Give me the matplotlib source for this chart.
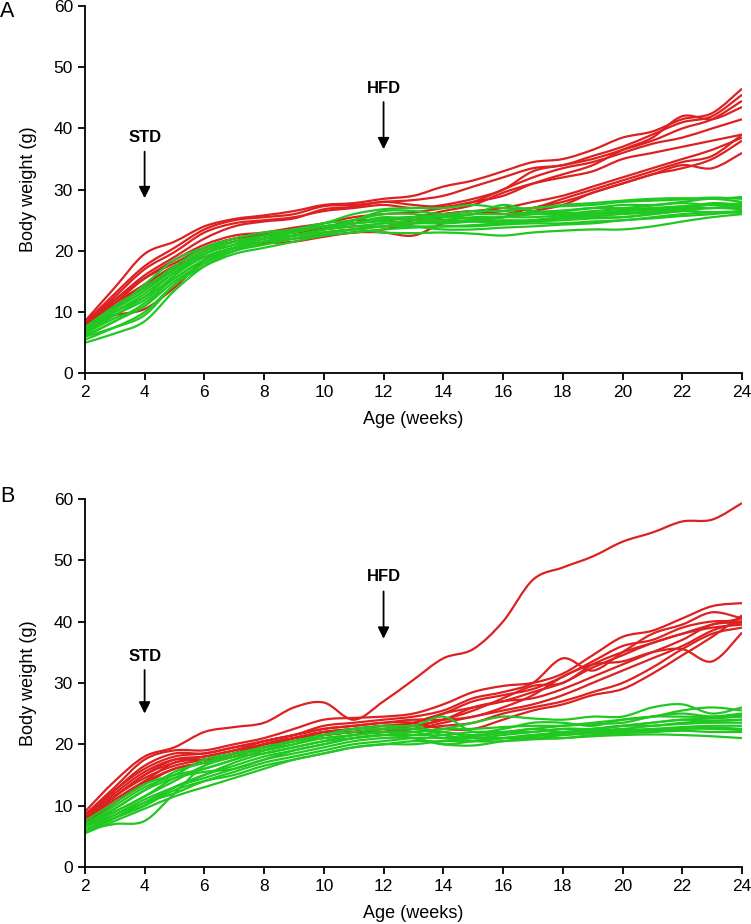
import matplotlib
matplotlib.use("Agg")
import matplotlib.pyplot as plt
from matplotlib.path import Path
from matplotlib.patches import PathPatch
import numpy as np

plt.rcParams['font.family'] = ['Liberation Sans', 'DejaVu Sans']

weeks = np.arange(2, 25)

# panel A
red_a = [
    [8.5, 14, 19.5, 21.5, 24, 25.2, 25.8, 26.5, 27.5, 27.8, 28.5, 29, 30.5, 31.5, 33, 34.5, 35, 36.5, 38.5, 39.5, 41.5, 42.5, 46.5],
    [8.2, 13, 17.5, 20.5, 23.5, 25, 25.5, 26, 27.3, 27.5, 28, 28.3, 29, 30.5, 32, 33.5, 34, 35.5, 37, 39, 41, 42, 45.5],
    [8, 12.5, 17, 19.8, 23, 24.5, 25, 25.5, 26.5, 27, 27.5, 27, 27.5, 28.5, 30, 33, 34, 35, 36.5, 38, 40, 41.5, 44.5],
    [8, 12, 16, 19, 22, 24, 24.8, 25.3, 26.8, 27.2, 28, 27.5, 27.2, 28, 29, 31, 32.5, 34, 36.5, 38.5, 42, 41.5, 43.5],
    [8, 11.5, 15.5, 18.5, 21, 22.5, 23, 23.8, 24.5, 25.5, 26, 26.3, 27, 28, 30, 32, 33.5, 34.5, 36, 37.5, 38.5, 40, 41.5],
    [8, 11, 14, 17, 20, 21.5, 22.5, 23, 23.5, 24, 24, 25, 26, 26.5, 27, 28, 29, 30.5, 32, 33.5, 35, 36.5, 38.5],
    [8, 9.5, 10.5, 14, 18.5, 20.5, 21.5, 22, 22.5, 23, 23.5, 24.5, 25.5, 26, 26.5, 27, 28.5, 30, 31.5, 33, 34.5, 35.5, 39],
    [8.3, 11.5, 14.5, 17.5, 20.5, 22, 22.8, 23.5, 24, 24.5, 25, 25.5, 26, 26.5, 26, 27, 28, 29.5, 31, 32.5, 33.5, 35, 38],
    [8, 11, 14.5, 17.5, 19, 20.5, 21.2, 21.5, 22.3, 23, 23, 22.5, 24.5, 25, 25.5, 26.5, 27.5, 29.5, 31, 32.5, 34, 33.5, 36],
    [8.2, 12, 15.5, 18, 20.5, 22, 22.5, 23, 23.8, 25, 25, 25.5, 26.5, 27.5, 29.5, 31, 32, 33, 35, 36, 37, 38, 39],
]
green_a = [
    [6.5, 9, 11, 16, 19.5, 21.5, 22.5, 23.5, 24.5, 26, 26.8, 27, 27, 27.5, 27, 27, 27.5, 27.8, 28.2, 28.5, 28.6, 28.5, 28.8],
    [5, 6.5, 8.5, 13.5, 17.5, 20, 21.5, 22.5, 23.5, 25, 26.5, 26.5, 26, 26.5, 26.5, 27, 27.3, 27.5, 28, 28.2, 28.4, 28.7, 28.5],
    [6, 7.5, 9.5, 14.5, 18, 20.5, 22, 23, 24, 24.5, 25, 25.5, 25.5, 26, 27.5, 26.5, 26.5, 27, 27.5, 27.5, 28, 28.5, 28],
    [7, 10.5, 13.5, 17, 19.5, 21, 22.5, 23.5, 24, 24.5, 25.3, 25.5, 25.8, 26, 26, 26.3, 26.6, 27, 27, 27.4, 27.8, 27.5, 27.8],
    [6.5, 10, 13, 16.5, 19, 20.5, 21.5, 22.5, 23.5, 24, 24.5, 25, 25, 25.5, 25.5, 26, 26, 26.5, 26.8, 27, 27.3, 27.6, 27.5],
    [7.5, 11, 14, 17.5, 20.5, 22, 23, 23.5, 24.5, 25, 26, 26, 25.5, 25.3, 25.5, 25.5, 25.8, 26, 26.5, 26.8, 27, 27.5, 27],
    [7, 10, 12.5, 15.5, 18.5, 20.5, 22, 22.5, 23.5, 24.5, 25.5, 25, 24.5, 24.8, 25, 25, 25.5, 25.7, 26, 26.3, 26.8, 27, 27.2],
    [6, 8.5, 11, 15, 18, 20, 21, 22, 23, 23.5, 24, 24.5, 24.5, 25, 24.8, 25, 25.3, 25.5, 25.5, 26, 26.5, 27, 26.8],
    [7.5, 10.5, 14.5, 18.5, 20.5, 21.5, 22, 22.5, 23, 23.5, 24, 24, 24, 24.2, 24.5, 24.8, 25, 25.3, 25.5, 26, 26.5, 26.3, 26.5],
    [5.5, 7.5, 10, 14.5, 17.5, 19.5, 20.5, 21.5, 22.5, 23, 23.5, 23.8, 24, 24, 24.3, 24.5, 24.5, 24.8, 25, 25.5, 26, 26.3, 26.2],
    [6.8, 9.5, 12.5, 16.5, 19.5, 21, 22, 23, 24, 24.5, 24.8, 24.5, 24.8, 25, 25.5, 26, 26.2, 26.2, 26.5, 26.8, 27.2, 27, 27.5],
    [6.2, 8.5, 11.5, 15.5, 18.5, 20, 21.5, 22.5, 23, 23.5, 23, 22.9, 23, 22.8, 22.5, 23, 23.3, 23.5, 23.5, 24, 24.8, 25.5, 26],
    [7.2, 10.5, 13.5, 17, 20, 21.5, 22.5, 23.2, 24, 24.5, 25.2, 25.5, 25, 24.8, 24.5, 25, 25.5, 26, 26.2, 26.5, 27, 27.8, 27.5],
    [6.5, 9.5, 12, 16, 19, 20.5, 21.5, 22, 22.8, 23.5, 24.5, 24, 23.5, 23.5, 23.8, 24, 24.3, 24.5, 25, 25.3, 25.7, 26, 26.5],
]

# panel B
red_b = [
    [9, 14, 18, 19.5, 22, 22.8, 23.5, 26, 26.8, 24, 27, 30.5, 34, 35.5, 40, 46.8, 48.8, 50.6, 53, 54.5, 56.3, 56.6, 59.3],
    [8.5, 13, 17.5, 19, 19, 20, 21, 22.5, 24, 24.3, 24.5, 25, 26.5, 28.5, 29.5, 30, 31.5, 34.5, 37.5, 38.5, 40.5, 42.5, 43],
    [8, 12.5, 16.5, 18.5, 18.5, 19.5, 20.5, 21.5, 23, 23.5, 24, 24.5, 25.5, 27.5, 28.5, 30, 34, 32, 35, 38, 39.5, 41.5, 40.5],
    [7.5, 11.5, 15, 17.5, 18, 19, 20, 21, 22, 22.5, 23, 23.5, 25, 27, 28, 29, 31, 33.5, 36, 37, 39, 40, 40],
    [8, 12, 15.5, 17.5, 17.5, 18.5, 19.5, 21, 22, 22, 22.5, 23, 24, 25.5, 27.5, 29.5, 30, 33, 35, 36.5, 38, 39.5, 40.5],
    [7.5, 11, 14, 17, 17.5, 18.5, 20, 21, 21.5, 22, 22, 23.5, 25, 26, 27, 28.5, 30, 32.5, 34.5, 36.5, 38, 39, 39.5],
    [8.5, 12.5, 16, 18, 18.5, 19.5, 20.5, 21.5, 22.5, 23, 23.5, 24, 24, 24.5, 26, 28, 31, 33, 33.5, 35, 35.5, 33.5, 38.2],
    [7, 10.5, 13.5, 16, 17, 18, 19.5, 20.5, 21.5, 22, 22.5, 22.5, 23.5, 24.5, 25.5, 26.5, 28, 30, 32, 34, 36, 38.5, 40],
    [7.5, 11.5, 14.5, 16.5, 17.5, 18.5, 20, 21, 21.5, 22, 22, 22.5, 23, 23.5, 25, 26, 27, 28.5, 30, 32.5, 35.5, 38, 39],
    [8, 11.5, 15, 17, 18, 19, 20.5, 21.5, 22.5, 23, 23.5, 23.5, 22.5, 22.5, 24, 25.5, 26.5, 28, 29, 31.5, 34.5, 37.5, 41],
    [7.2, 10.5, 13.8, 16, 17, 18.5, 20, 21, 22, 22.5, 23, 23, 24, 26, 27, 27.5, 29, 31, 33, 35, 37, 39.5, 39.8],
]
green_b = [
    [6, 7, 7.5, 12, 16.5, 18, 18.5, 19.5, 20.5, 21, 21.5, 22, 22.5, 23.5, 24.5, 24.2, 24, 24.5, 24.5, 26, 26.5, 25, 26],
    [7, 10, 13, 15, 17.5, 18.5, 19.5, 20.5, 21.5, 22.5, 23, 23, 24.5, 22, 22.5, 23.5, 23.5, 23, 24, 24.5, 25.5, 26, 25.5],
    [6.5, 9.5, 12.5, 15.5, 17, 18.5, 19, 20, 21.5, 22.5, 22.5, 22.5, 22, 21.5, 22, 22.5, 23, 23.5, 24, 24.5, 24.5, 24.5, 25],
    [7.5, 10.5, 13.5, 15, 16, 17.5, 19, 20.5, 21.5, 22, 22.5, 23, 21.5, 21, 21.5, 22, 22.5, 22.5, 23, 23.5, 24, 24.2, 24.5],
    [6.5, 9, 11.5, 14.5, 16, 17.5, 19, 20, 21, 21.5, 22, 22, 21, 21.3, 21.8, 22.5, 22, 22.5, 23, 23, 23.5, 23.8, 24],
    [6, 8, 10, 13, 15, 17, 18.5, 19.5, 20.5, 21.5, 22, 21.5, 22, 21, 21, 21.5, 22, 22.3, 22.5, 23, 23.3, 23.5, 23.5],
    [5.5, 7.5, 9.5, 11.5, 13, 14.5, 16, 17.5, 18.5, 19.5, 20, 20.5, 20.5, 21, 21, 21.3, 21.8, 22, 22.3, 22.5, 22.8, 23, 23],
    [6, 8.5, 11, 13, 14.5, 16, 17.5, 18.5, 19.5, 20.5, 21, 21, 20, 20.5, 21, 21, 21.5, 22, 22, 22.3, 22.5, 22.7, 22.5],
    [7, 9.5, 12.5, 14.5, 15.5, 16, 17.5, 19, 20, 21, 21.5, 21, 20, 19.8, 20.5, 21, 21, 21.5, 21.8, 22, 22.2, 22, 22],
    [6.5, 8.5, 10.5, 12, 14, 15.5, 17, 18, 19, 20, 20.5, 21, 21, 20.5, 20.5, 20.8, 21, 21.3, 21.5, 21.6, 21.5, 21.3, 21],
    [5.5, 8, 10.5, 13, 15, 16.5, 18, 19, 20, 21, 21.5, 21.5, 21.5, 22, 22, 22, 22.5, 22.5, 23, 23.5, 24, 23.8, 24],
    [6.8, 9, 11.5, 14, 16.5, 18, 19.5, 20.5, 21, 21.5, 22, 22, 22.5, 22.5, 22.8, 23, 23, 23.3, 23.5, 24.5, 25, 24.5, 24.8],
    [6, 8, 10, 12.5, 14, 15, 16.5, 17.5, 18.5, 19.5, 20, 20, 20.5, 20.5, 21, 21.5, 21.5, 21.8, 22, 22, 22.5, 22.5, 22.3],
]

# (label, week, text y, arrow top, arrow tip)
marks_a = [("STD", 4, 38.6, 36.2, 28.6), ("HFD", 12, 46.6, 44.3, 36.6)]
marks_b = [("STD", 4, 34.3, 32.1, 25.0), ("HFD", 12, 47.3, 44.9, 37.2)]

RED = '#dd2121'
GREEN = '#21c821'

fig = plt.figure(figsize=(7.51, 9.24), dpi=100)
ax_a = fig.add_axes([0.113, 0.596, 0.875, 0.3975])
ax_b = fig.add_axes([0.113, 0.0617, 0.875, 0.3985])


def smooth_line(ax, x, y, color):
    # Catmull-Rom style bezier through the weekly points
    x = np.asarray(x, float)
    y = np.asarray(y, float)
    px = np.concatenate([[x[0]], x, [x[-1]]])
    py = np.concatenate([[y[0]], y, [y[-1]]])
    verts = [(x[0], y[0])]
    codes = [Path.MOVETO]
    for i in range(1, len(x)):
        c1 = (px[i] + (px[i + 1] - px[i - 1]) / 6, py[i] + (py[i + 1] - py[i - 1]) / 6)
        c2 = (px[i + 1] - (px[i + 2] - px[i]) / 6, py[i + 1] - (py[i + 2] - py[i]) / 6)
        verts += [c1, c2, (px[i + 1], py[i + 1])]
        codes += [Path.CURVE4] * 3
    ax.add_patch(PathPatch(Path(verts, codes), fill=False, edgecolor=color,
                           lw=1.6, joinstyle='round', capstyle='butt'))


def draw_panel(ax, reds, greens, marks):
    for r in reds:
        smooth_line(ax, weeks, r, RED)
    for g in greens:
        smooth_line(ax, weeks, g, GREEN)
    for name, wk, ty, y0, y1 in marks:
        ax.text(wk, ty, name, ha='center', va='center', fontsize=12,
                fontweight='bold')
        ax.annotate('', xy=(wk, y1), xytext=(wk, y0),
                    arrowprops=dict(arrowstyle='-|>', color='black', lw=1.3,
                                    mutation_scale=17, shrinkA=0, shrinkB=0))
    ax.set_xlim(2, 24)
    ax.set_ylim(0, 60)
    ax.set_xticks(np.arange(2, 25, 2))
    ax.set_yticks(np.arange(0, 61, 10))
    ax.spines['top'].set_visible(False)
    ax.spines['right'].set_visible(False)
    for s in ('left', 'bottom'):
        ax.spines[s].set_linewidth(1.3)
    ax.tick_params(direction='out', length=5, width=1.3, labelsize=12.5)
    ax.set_xlabel('Age (weeks)', fontsize=13, labelpad=8)
    ax.set_ylabel('Body weight (g)', fontsize=13, labelpad=12)


draw_panel(ax_a, red_a, green_a, marks_a)
draw_panel(ax_b, red_b, green_b, marks_b)

fig.text(0.0, 1 - 1 / 924, 'A', fontsize=15.5, ha='left', va='top')
fig.text(0.0, 1 - 486 / 924, 'B', fontsize=15.5, ha='left', va='top')

fig.savefig('out.png', dpi=100)
